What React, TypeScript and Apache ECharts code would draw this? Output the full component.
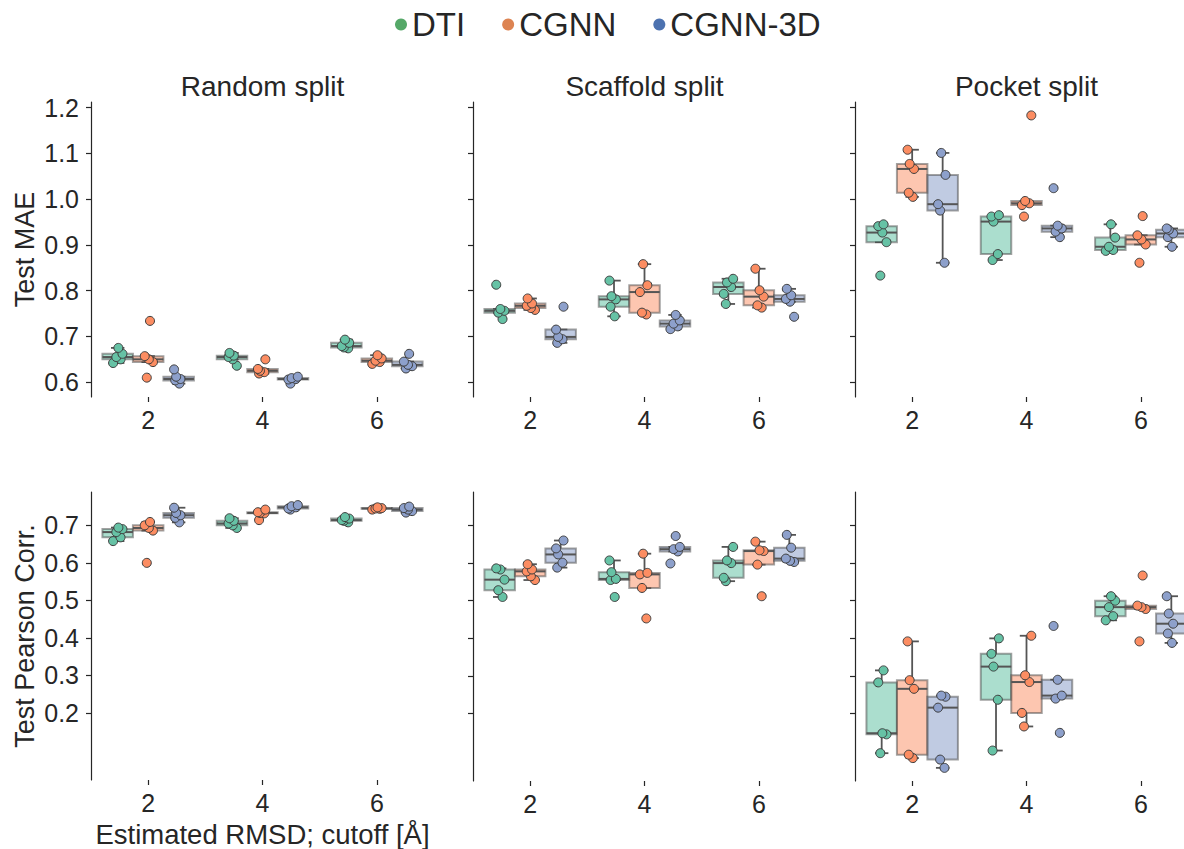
import React, { useEffect, useRef } from 'react';
import * as echarts from 'echarts';

const CUTOFFS = ['2', '4', '6'];
const MODELS = ['DTI', 'CGNN', 'CGNN-3D'];
const SPLITS = ['Random split', 'Scaffold split', 'Pocket split'];
const METRICS = ['Test MAE', 'Test Pearson Corr.'];
const MAE_TICKS = [0.6, 0.7, 0.8, 0.9, 1.0, 1.1, 1.2];
const PEARSON_TICKS = [0.2, 0.3, 0.4, 0.5, 0.6, 0.7];

// Test MAE: [cutoff 2, cutoff 4, cutoff 6], five runs each
const maeRandomDTI = [[0.642, 0.650, 0.655, 0.662, 0.675], [0.636, 0.650, 0.655, 0.658, 0.664], [0.674, 0.676, 0.679, 0.686, 0.693]];
const maeRandomCGNN = [[0.610, 0.644, 0.650, 0.657, 0.734], [0.619, 0.622, 0.625, 0.629, 0.650], [0.640, 0.644, 0.647, 0.652, 0.659]];
const maeRandomCGNN3D = [[0.597, 0.604, 0.607, 0.612, 0.628], [0.597, 0.606, 0.607, 0.609, 0.612], [0.630, 0.635, 0.638, 0.645, 0.662]];

const maeScaffoldDTI = [[0.738, 0.752, 0.756, 0.760, 0.813], [0.744, 0.765, 0.781, 0.788, 0.822], [0.771, 0.793, 0.808, 0.818, 0.826]];
const maeScaffoldCGNN = [[0.758, 0.762, 0.767, 0.772, 0.783], [0.748, 0.752, 0.797, 0.812, 0.858], [0.763, 0.768, 0.787, 0.801, 0.848]];
const maeScaffoldCGNN3D = [[0.686, 0.694, 0.699, 0.715, 0.765], [0.716, 0.722, 0.728, 0.735, 0.747], [0.743, 0.776, 0.782, 0.790, 0.804]];

const maePocketDTI = [[0.833, 0.906, 0.927, 0.941, 0.945], [0.867, 0.880, 0.951, 0.962, 0.965], [0.887, 0.889, 0.896, 0.916, 0.945]];
const maePocketCGNN = [[1.005, 1.014, 1.066, 1.077, 1.108], [0.962, 0.987, 0.991, 0.996, 1.183], [0.861, 0.901, 0.912, 0.921, 0.963]];
const maePocketCGNN3D = [[0.861, 0.975, 0.989, 1.053, 1.101], [0.917, 0.929, 0.936, 0.942, 1.024], [0.896, 0.917, 0.925, 0.933, 0.936]];

// Test Pearson Corr.
const pearRandomDTI = [[0.658, 0.668, 0.682, 0.690, 0.694], [0.693, 0.700, 0.705, 0.712, 0.719], [0.708, 0.712, 0.714, 0.718, 0.722]];
const pearRandomCGNN = [[0.600, 0.686, 0.693, 0.700, 0.709], [0.714, 0.732, 0.733, 0.735, 0.742], [0.742, 0.744, 0.745, 0.746, 0.748]];
const pearRandomCGNN3D = [[0.708, 0.720, 0.727, 0.733, 0.747], [0.742, 0.745, 0.748, 0.751, 0.754], [0.734, 0.738, 0.742, 0.746, 0.750]];

const pearScaffoldDTI = [[0.510, 0.528, 0.556, 0.583, 0.586], [0.510, 0.555, 0.558, 0.576, 0.607], [0.552, 0.561, 0.600, 0.607, 0.643]];
const pearScaffoldCGNN = [[0.555, 0.565, 0.578, 0.583, 0.597], [0.453, 0.534, 0.570, 0.574, 0.625], [0.512, 0.596, 0.632, 0.634, 0.657]];
const pearScaffoldCGNN3D = [[0.588, 0.601, 0.623, 0.639, 0.660], [0.599, 0.631, 0.637, 0.643, 0.672], [0.603, 0.606, 0.612, 0.641, 0.675]];

const pearPocketDTI = [[0.095, 0.145, 0.148, 0.283, 0.315], [0.102, 0.237, 0.325, 0.359, 0.400], [0.448, 0.459, 0.483, 0.500, 0.512]];
const pearPocketCGNN = [[0.082, 0.091, 0.266, 0.289, 0.392], [0.166, 0.202, 0.284, 0.302, 0.407], [0.392, 0.478, 0.483, 0.487, 0.567]];
const pearPocketCGNN3D = [[0.056, 0.078, 0.216, 0.245, 0.248], [0.149, 0.240, 0.248, 0.290, 0.433], [0.388, 0.413, 0.439, 0.466, 0.512]];

const MAE = [
  [maeRandomDTI, maeRandomCGNN, maeRandomCGNN3D],
  [maeScaffoldDTI, maeScaffoldCGNN, maeScaffoldCGNN3D],
  [maePocketDTI, maePocketCGNN, maePocketCGNN3D],
];
const PEARSON = [
  [pearRandomDTI, pearRandomCGNN, pearRandomCGNN3D],
  [pearScaffoldDTI, pearScaffoldCGNN, pearScaffoldCGNN3D],
  [pearPocketDTI, pearPocketCGNN, pearPocketCGNN3D],
];
const ROWS = [MAE, PEARSON];
const ROW_TICKS = [MAE_TICKS, PEARSON_TICKS];

const POINT_COLORS = ['#66c2a5', '#fc8d62', '#8da0cb'];
const BOX_FILLS = ['rgba(102,194,165,0.55)', 'rgba(252,141,98,0.5)', 'rgba(141,160,203,0.55)'];
const LEGEND_COLORS = ['#55a868', '#dd8452', '#4c72b0'];
const JITTER = [-0.04, 0.025, -0.012, 0.042, 0.006, -0.03, 0.016, -0.022];

const FONT = '"Liberation Sans", Arial, Helvetica, sans-serif';
const INK = '#262626';
const DARK = '#555555';
const CHART_W = 1210;
const GRID_LEFTS = [91, 473, 855];
const GRID_W = 343;
const ROW_TOPS = [102, 492];
const ROW_H = [295, 289];
const BOX_W = 0.8 / 3;
const OFFSETS = [-BOX_W, 0, BOX_W];

function quantile(s: number[], q: number) {
  const pos = (s.length - 1) * q;
  const lo = Math.floor(pos);
  const hi = Math.ceil(pos);
  return s[lo] + (s[hi] - s[lo]) * (pos - lo);
}

function boxStats(vals: number[]) {
  const s = [...vals].sort((a, b) => a - b);
  const q1 = quantile(s, 0.25);
  const med = quantile(s, 0.5);
  const q3 = quantile(s, 0.75);
  const iqr = q3 - q1;
  const inside = s.filter((v) => v >= q1 - 1.5 * iqr && v <= q3 + 1.5 * iqr);
  return [q1, med, q3, Math.min(...inside), Math.max(...inside)];
}

function rowRange(row: number[][][][]) {
  const all = row.flat(3);
  const mn = Math.min(...all);
  const mx = Math.max(...all);
  const pad = (mx - mn) * 0.05;
  return [mn - pad, mx + pad];
}

function buildOption() {
  const grids: any[] = [];
  const xAxes: any[] = [];
  const yAxes: any[] = [];
  const series: any[] = [];
  const graphics: any[] = [];

  ROWS.forEach((row, r) => {
    const [ymin, ymax] = rowRange(row);
    SPLITS.forEach((split, c) => {
      const k = r * 3 + c;
      grids.push({ left: GRID_LEFTS[c], top: ROW_TOPS[r], width: GRID_W, height: ROW_H[r], containLabel: false });
      xAxes.push({
        type: 'value',
        gridIndex: k,
        min: -0.5,
        max: 2.5,
        axisLine: { show: false, onZero: false },
        splitLine: { show: false },
        axisTick: { show: true, customValues: [0, 1, 2], length: 5, lineStyle: { color: INK, width: 1.2 } },
        axisLabel: {
          show: true,
          customValues: [0, 1, 2],
          formatter: (v: number) => CUTOFFS[Math.round(v)],
          fontSize: 25,
          color: INK,
          fontFamily: FONT,
          margin: 10,
        },
        name: k === 3 ? 'Estimated RMSD; cutoff [Å]' : '',
        nameLocation: 'middle',
        nameGap: 40,
        nameTextStyle: { fontSize: 27.5, color: INK, fontFamily: FONT },
      });
      yAxes.push({
        type: 'value',
        gridIndex: k,
        min: ymin,
        max: ymax,
        axisLine: { show: true, onZero: false, lineStyle: { color: INK, width: 1.2 } },
        splitLine: { show: false },
        axisTick: { show: true, customValues: ROW_TICKS[r], length: 5, lineStyle: { color: INK, width: 1.2 } },
        axisLabel: {
          show: c === 0,
          customValues: ROW_TICKS[r],
          formatter: (v: number) => v.toFixed(1),
          fontSize: 25,
          color: INK,
          fontFamily: FONT,
          margin: 12,
        },
        name: c === 0 ? METRICS[r] : '',
        nameLocation: 'middle',
        nameRotate: 90,
        nameGap: 53,
        nameTextStyle: { fontSize: 27, color: INK, fontFamily: FONT },
      });

      MODELS.forEach((model, h) => {
        const groups = row[c][h];
        series.push({
          type: 'custom',
          name: model,
          xAxisIndex: k,
          yAxisIndex: k,
          z: 2,
          data: groups.map((vals, i) => [i, ...boxStats(vals)]),
          encode: { x: 0, y: [1, 2, 3, 4, 5] },
          renderItem: (params: any, api: any) => {
            const i = api.value(0);
            const cx = i + OFFSETS[h];
            const q1 = api.value(1);
            const med = api.value(2);
            const q3 = api.value(3);
            const lo = api.value(4);
            const hi = api.value(5);
            const pl = api.coord([cx - BOX_W / 2, q1]);
            const pr = api.coord([cx + BOX_W / 2, q3]);
            const xl = pl[0];
            const xr = pr[0];
            const yq1 = pl[1];
            const yq3 = pr[1];
            const xc = (xl + xr) / 2;
            const ymed = api.coord([cx, med])[1];
            const ylo = api.coord([cx, lo])[1];
            const yhi = api.coord([cx, hi])[1];
            const cap = (xr - xl) * 0.22;
            const ls = { stroke: DARK, lineWidth: 1.8 };
            return {
              type: 'group',
              children: [
                { type: 'line', shape: { x1: xc, y1: yq3, x2: xc, y2: yhi }, style: ls },
                { type: 'line', shape: { x1: xc, y1: yq1, x2: xc, y2: ylo }, style: ls },
                { type: 'line', shape: { x1: xc - cap, y1: yhi, x2: xc + cap, y2: yhi }, style: ls },
                { type: 'line', shape: { x1: xc - cap, y1: ylo, x2: xc + cap, y2: ylo }, style: ls },
                {
                  type: 'rect',
                  shape: { x: xl, y: yq3, width: xr - xl, height: Math.max(yq1 - yq3, 0.5) },
                  style: { fill: BOX_FILLS[h], stroke: 'rgba(70,70,70,0.5)', lineWidth: 2 },
                },
                { type: 'line', shape: { x1: xl, y1: ymed, x2: xr, y2: ymed }, style: { stroke: DARK, lineWidth: 2 } },
              ],
            };
          },
        });
        const pts: number[][] = [];
        groups.forEach((vals, i) => {
          vals.forEach((v, j) => {
            pts.push([i + OFFSETS[h] + JITTER[(j + i * 3 + h * 2 + c) % JITTER.length], v]);
          });
        });
        series.push({
          type: 'scatter',
          name: model,
          xAxisIndex: k,
          yAxisIndex: k,
          z: 5,
          symbol: 'circle',
          symbolSize: 9,
          itemStyle: { color: POINT_COLORS[h], borderColor: '#3d3d3d', borderWidth: 1, opacity: 1 },
          data: pts,
        });
      });

      if (r === 0) {
        graphics.push({
          type: 'text',
          x: GRID_LEFTS[c] + GRID_W / 2,
          y: 86,
          style: {
            text: split,
            fontSize: 28,
            fontFamily: FONT,
            fill: INK,
            align: 'center',
            verticalAlign: 'middle',
            textAlign: 'center',
            textVerticalAlign: 'middle',
          },
        });
      }
    });
  });

  return {
    animation: false,
    backgroundColor: '#ffffff',
    legend: {
      data: MODELS.map((m, h) => ({ name: m, icon: 'circle', itemStyle: { color: LEGEND_COLORS[h], borderWidth: 0 } })),
      left: 395,
      top: 8,
      padding: 0,
      itemWidth: 12,
      itemHeight: 12,
      itemGap: 37,
      selectedMode: false,
      textStyle: { fontSize: 33, color: INK, fontFamily: FONT },
    },
    grid: grids,
    xAxis: xAxes,
    yAxis: yAxes,
    series,
    graphic: graphics,
  };
}

export default function App() {
  const ref = useRef<HTMLDivElement>(null);
  useEffect(() => {
    if (!ref.current) return;
    const chart = echarts.init(ref.current, undefined, { renderer: 'svg' });
    chart.setOption(buildOption() as any);
    return () => chart.dispose();
  }, []);
  return (
    <div style={{ position: 'absolute', left: 0, top: 0, width: 1184, height: 849, overflow: 'hidden', background: '#fff' }}>
      <div ref={ref} style={{ width: CHART_W, height: 849 }} />
    </div>
  );
}
